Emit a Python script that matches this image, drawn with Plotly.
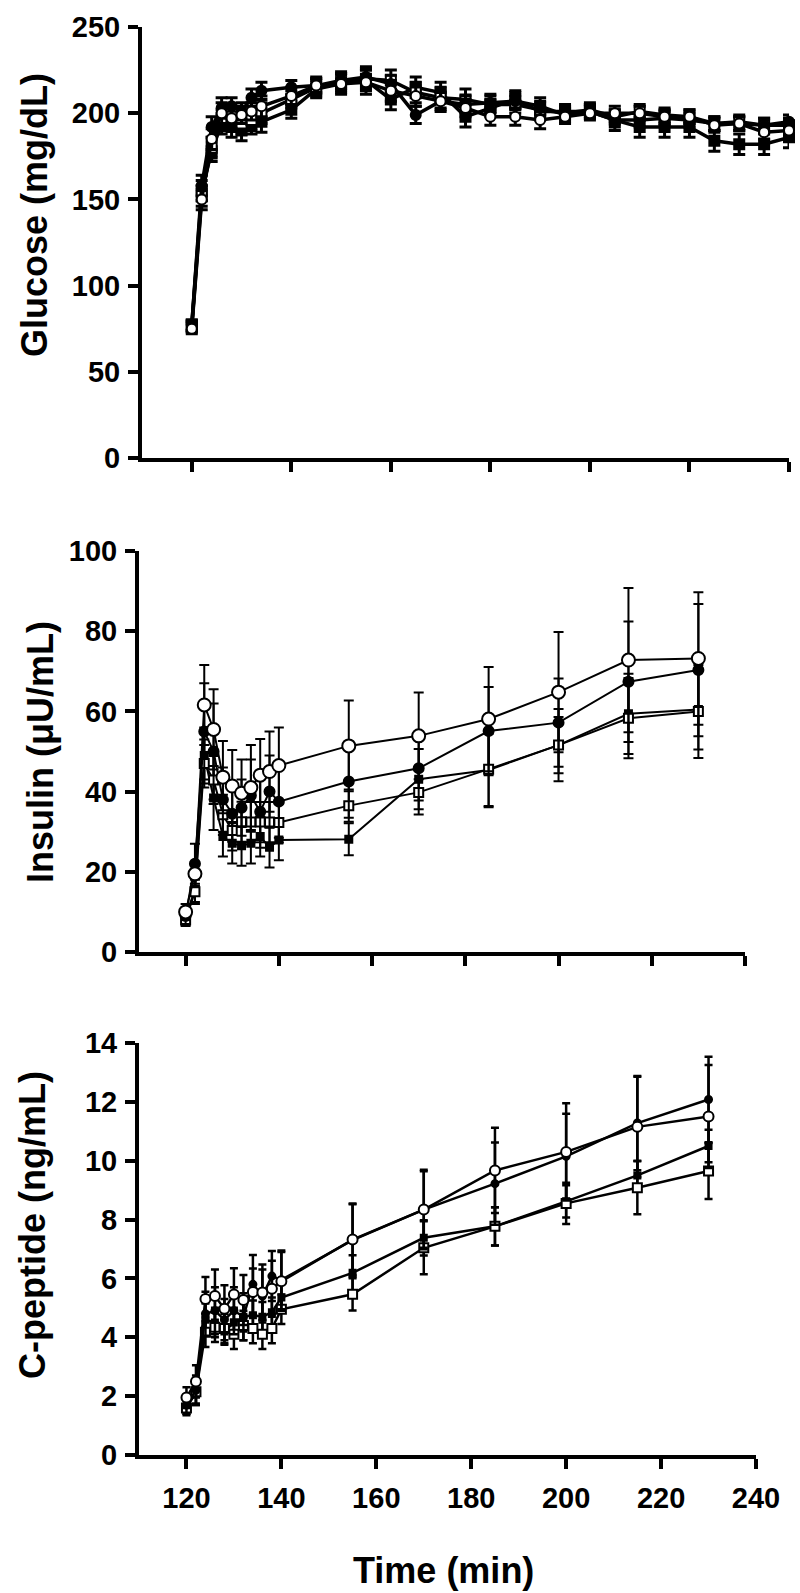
import plotly.graph_objects as go

# ---------------- data ----------------
glu_time = [120, 122, 124, 126, 128, 130, 132, 134, 140, 145, 150, 155, 160, 165, 170,
            175, 180, 185, 190, 195, 200, 205, 210, 215, 220, 225, 230, 235, 240]
glu_fc = [77, 158, 192, 203, 204, 201, 209, 213, 215, 216, 219, 221, 217, 199, 207,
          205, 206, 207, 204, 199, 201, 196, 196, 197, 196, 194, 194, 193, 195]
glu_oc = [75, 150, 185, 200, 197, 199, 201, 204, 210, 216, 217, 218, 213, 210, 207,
          203, 198, 198, 196, 198, 200, 200, 200, 198, 198, 193, 194, 189, 190]
glu_fs = [77, 155, 178, 194, 192, 190, 194, 195, 202, 214, 217, 219, 208, 215, 212,
          198, 203, 208, 201, 201, 201, 196, 192, 192, 192, 184, 182, 182, 186]
glu_os = [76, 152, 180, 196, 198, 194, 196, 200, 208, 215, 218, 220, 219, 212, 209,
          208, 205, 205, 202, 200, 202, 198, 201, 199, 198, 194, 195, 193, 193]
glu_fc_err = [3, 6, 6, 6, 5, 5, 5, 5, 4, 4, 5, 6, 5, 5, 5, 5, 5, 5, 5, 4, 4, 4, 4, 4, 4, 4, 4, 4, 4]
glu_oc_err = [3, 6, 6, 6, 6, 5, 5, 6, 5, 5, 6, 7, 6, 6, 6, 5, 5, 5, 5, 4, 4, 4, 4, 4, 4, 4, 4, 4, 4]
glu_fs_err = [3, 6, 6, 6, 6, 6, 6, 6, 5, 5, 5, 6, 6, 6, 6, 6, 5, 5, 5, 4, 4, 6, 6, 6, 6, 6, 6, 6, 6]
glu_os_err = [3, 6, 6, 6, 6, 6, 6, 6, 5, 5, 5, 6, 6, 6, 6, 6, 5, 5, 5, 4, 4, 4, 4, 4, 4, 4, 4, 4, 4]

ins_time = [120, 122, 124, 126, 128, 130, 132, 134, 136, 138, 140, 155, 170, 185, 200, 215, 230]
ins_fc = [9, 22, 55, 50, 38, 34.5, 36, 39, 35, 40, 37.5, 42.5, 45.8, 55.1, 57.2, 67.4, 70.3]
ins_oc = [10, 19.5, 61.6, 55.5, 43.6, 41.4, 39.6, 41, 44.1, 45, 46.5, 51.4, 53.9, 58.1, 64.8, 72.8, 73.2]
ins_fs = [9, 15.5, 49, 38.4, 28.8, 27.1, 26.5, 27.1, 28.8, 26.1, 27.9, 28.1, 43.1, 45.4, 51.6, 59.4, 60.5]
ins_os = [8, 15, 47, 42.9, 34.2, 30.3, 32.5, 32.4, 32.4, 32.4, 32.3, 36.5, 39.8, 45.6, 51.6, 58.3, 60.0]
ins_fc_err = [2, 5, 12, 12, 8, 7, 7, 9, 9, 9, 9, 9, 8, 11, 11, 15, 16.5]
ins_oc_err = [2, 3, 10, 10, 9, 9, 8.4, 10.6, 9, 10, 9.5, 11.3, 10.8, 13, 15, 18, 16.5]
ins_fs_err = [1.5, 3, 7, 8, 5, 5, 5, 5, 5, 5, 5, 4, 7.5, 9, 7, 10, 10]
ins_os_err = [1.5, 3, 6, 6, 5, 5, 5, 5, 5, 5, 5, 4, 5.5, 9.5, 9, 10, 11.6]

cp_time = [120, 122, 124, 126, 128, 130, 132, 134, 136, 138, 140, 155, 170, 185, 200, 215, 230]
cp_fc = [1.7, 2.2, 4.8, 4.9, 4.6, 4.9, 4.7, 5.8, 5.4, 6.08, 5.95, 7.3, 8.34, 9.22, 10.15, 11.28, 12.08]
cp_oc = [1.95, 2.5, 5.3, 5.4, 4.97, 5.45, 5.27, 5.54, 5.52, 5.65, 5.9, 7.32, 8.34, 9.67, 10.3, 11.15, 11.5]
cp_fs = [1.65, 2.1, 4.6, 4.5, 4.2, 4.5, 4.7, 4.75, 4.7, 4.85, 5.35, 6.19, 7.38, 7.77, 8.62, 9.5, 10.5]
cp_os = [1.6, 2.15, 4.17, 4.34, 4.3, 4.1, 4.4, 4.3, 4.1, 4.3, 4.95, 5.46, 7.04, 7.77, 8.55, 9.08, 9.65]
cp_fc_err = [0.3, 0.5, 0.75, 0.8, 0.7, 0.8, 0.8, 1.0, 0.9, 0.85, 1.0, 1.25, 1.35, 1.4, 1.45, 1.6, 1.45]
cp_oc_err = [0.35, 0.55, 0.75, 0.9, 0.8, 0.9, 0.85, 0.8, 0.95, 0.95, 1.0, 1.2, 1.3, 1.45, 1.65, 1.7, 1.75]
cp_fs_err = [0.25, 0.4, 0.55, 0.5, 0.45, 0.5, 0.5, 0.5, 0.5, 0.5, 0.5, 0.6, 0.6, 0.65, 0.55, 0.5, 0.55]
cp_os_err = [0.25, 0.4, 0.5, 0.5, 0.5, 0.5, 0.5, 0.5, 0.5, 0.5, 0.5, 0.55, 0.9, 0.65, 0.7, 0.9, 0.95]

x_ticks = [120, 140, 160, 180, 200, 220, 240]
glu_ticks = [0, 50, 100, 150, 200, 250]
ins_ticks = [0, 20, 40, 60, 80, 100]
cp_ticks = [0, 2, 4, 6, 8, 10, 12, 14]

# ---------------- figure ----------------
W, H = 800, 1593
fig = go.Figure()

FONT = "Liberation Sans, Arial, Helvetica, sans-serif"


def add_series(t, y, err, axis_id, kind, size, lw, ew, cap):
    filled = kind in ("fc", "fs")
    symbol = "circle" if kind in ("fc", "oc") else "square"
    xa = "x" if axis_id == 1 else f"x{axis_id}"
    ya = "y" if axis_id == 1 else f"y{axis_id}"
    fig.add_trace(go.Scatter(
        x=t, y=y, xaxis=xa, yaxis=ya, mode="lines+markers",
        line=dict(color="black", width=lw),
        marker=dict(symbol=symbol, size=size,
                    color="black" if filled else "white",
                    line=dict(color="black", width=2)),
        error_y=dict(type="data", array=err, symmetric=True, visible=True,
                     color="black", thickness=ew, width=cap),
        showlegend=False, cliponaxis=False, hoverinfo="skip",
    ))


# Glucose (axis 1)
add_series(glu_time, glu_fs, glu_fs_err, 1, "fs", 10, 3.5, 3, 6)
add_series(glu_time, glu_os, glu_os_err, 1, "os", 10, 3.5, 3, 6)
add_series(glu_time, glu_fc, glu_fc_err, 1, "fc", 10, 3.5, 3, 6)
add_series(glu_time, glu_oc, glu_oc_err, 1, "oc", 10, 3.5, 3, 6)

# Insulin (axis 2)
add_series(ins_time, ins_fs, ins_fs_err, 2, "fs", 7, 2, 2, 5)
add_series(ins_time, ins_os, ins_os_err, 2, "os", 9, 2, 2, 5)
add_series(ins_time, ins_fc, ins_fc_err, 2, "fc", 10, 2, 2, 5)
add_series(ins_time, ins_oc, ins_oc_err, 2, "oc", 13, 2, 2, 5)

# C-peptide (axis 3)
add_series(cp_time, cp_fs, cp_fs_err, 3, "fs", 6, 2.5, 2.5, 4)
add_series(cp_time, cp_os, cp_os_err, 3, "os", 9, 2.5, 2.5, 4)
add_series(cp_time, cp_fc, cp_fc_err, 3, "fc", 7, 2.5, 2.5, 4)
add_series(cp_time, cp_oc, cp_oc_err, 3, "oc", 10, 2.5, 2.5, 4)


def px_x(p):
    return p / W


def px_y(p):
    return 1 - p / H


axis_common = dict(showline=True, linewidth=4, linecolor="black", ticks="outside",
                   ticklen=10, tickwidth=4, tickcolor="black", showgrid=False,
                   zeroline=False, mirror=False, automargin=False,
                   tickfont=dict(family=FONT, size=29, color="black", weight="bold"))

panels = [
    # (axis id, x domain px, y domain px (bottom, top), y range, y ticks, show x labels)
    (1, (142, 789), (458, 27), [0, 250], glu_ticks, False),
    (2, (139, 745), (952, 551), [0, 100], ins_ticks, False),
    (3, (139, 756), (1455, 1043), [0, 14], cp_ticks, True),
]

layout = dict(autosize=True, margin=dict(l=0, r=0, t=0, b=0, pad=0, autoexpand=False),
              plot_bgcolor="white", paper_bgcolor="white", showlegend=False,
              hovermode=False, dragmode=False)
for aid, (xl, xr), (yb, yt), yr, yt_vals, showx in panels:
    xk = "xaxis" if aid == 1 else f"xaxis{aid}"
    yk = "yaxis" if aid == 1 else f"yaxis{aid}"
    ya_ref = "y" if aid == 1 else f"y{aid}"
    xa_ref = "x" if aid == 1 else f"x{aid}"
    layout[xk] = dict(axis_common, domain=[px_x(xl), px_x(xr)], range=[110, 240],
                      tickvals=x_ticks, showticklabels=showx, anchor=ya_ref,
                      ticklabelstandoff=4)
    layout[yk] = dict(axis_common, domain=[px_y(yb), px_y(yt)], range=yr,
                      tickvals=yt_vals, anchor=xa_ref, ticklabelstandoff=2)

fig.update_layout(**layout)

title_font = dict(family=FONT, size=36, color="black", weight="bold")
titles = [
    ("Glucose (mg/dL)", 35, 215, -90),
    ("Insulin (μU/mL)", 40, 752, -90),
    ("C-peptide (ng/mL)", 32, 1225, -90),
    ("Time (min)", 443, 1570, 0),
]
for txt, cx, cy, ang in titles:
    fig.add_annotation(text=txt, x=px_x(cx), y=px_y(cy), xref="paper", yref="paper",
                       showarrow=False, textangle=ang, font=title_font,
                       xanchor="center", yanchor="middle")

fig.write_html(
    "out.html",
    default_width="100vw",
    default_height="100vh",
    config={"displayModeBar": False, "responsive": True, "staticPlot": True},
    post_script=("document.documentElement.style.margin='0';"
                 "document.body.style.margin='0';"
                 "document.body.style.padding='0';"
                 "document.documentElement.style.overflow='hidden';"
                 "document.body.style.overflow='hidden';"
                 "window.dispatchEvent(new Event('resize'));"),
)
